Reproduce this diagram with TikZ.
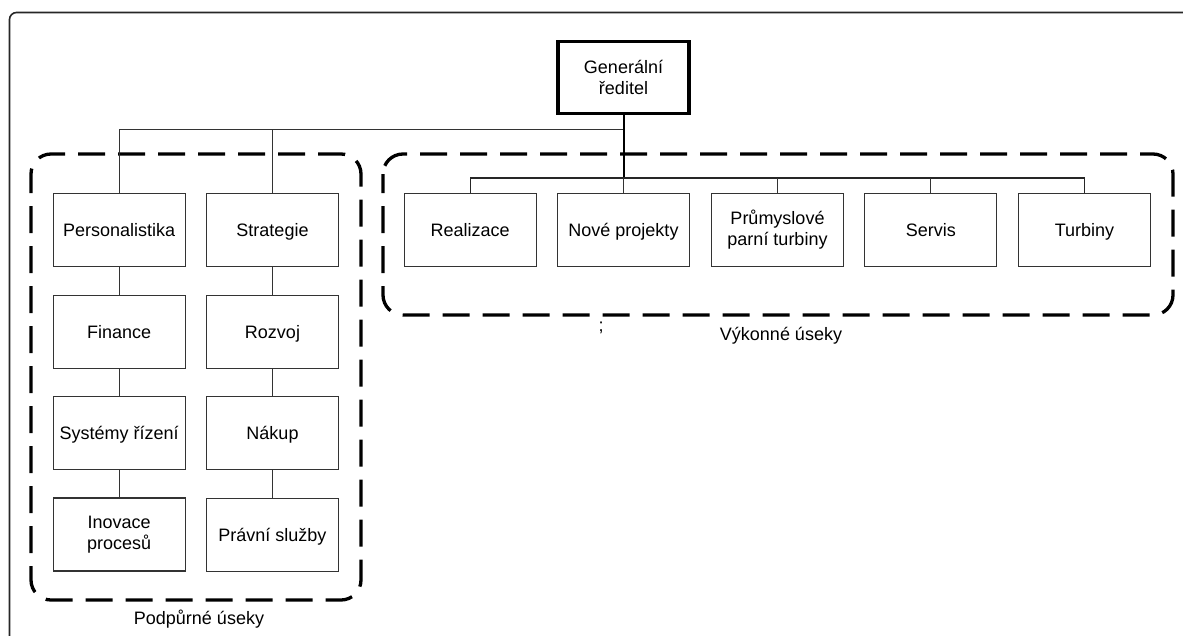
\documentclass[tikz,border=0pt]{standalone}
\usepackage{fontspec}
\setmainfont{Liberation Sans}
\begin{document}
\begin{tikzpicture}[x=1pt,y=-1pt,
  font=\fontsize{18}{21}\selectfont,
  unit/.style={draw=black!80, line width=1.2pt, minimum width=132pt, minimum height=73pt,
    inner sep=0pt, align=center, fill=white},
  oneline/.style={unit, text height=13pt, text depth=0pt},
  head/.style={unit, draw=black, line width=3.5pt, minimum width=131pt, minimum height=72pt},
  link/.style={draw=black!80, line width=1pt},
  grp/.style={draw=black, line width=3.3pt, dash pattern=on 27pt off 13pt, rounded corners=20pt},
  grplabel/.style={inner sep=0pt, anchor=base}]
\useasboundingbox (0,0) rectangle (1183,635);
% outer frame
\draw[black!85, line width=1.6pt, rounded corners=7pt] (9.5,640) -- (9.5,12.5) -- (1190,12.5);

% group outlines
\draw[grp, dash phase=8pt] (31,154) rectangle (361,600);
\draw[grp, dash phase=8pt] (383,154) rectangle (1173,315);

% top unit
\node[head] (gen) at (623.5,77.5) {Generální\\ředitel};

% support units (two columns)
\node[oneline] (pers)  at (119.2,230.3) {Personalistika};
\node[oneline] (fin)   at (119.2,332)   {Finance};
\node[oneline] (sys)   at (119.2,433)   {Systémy řízení};
\node[unit]    (inov)  at (119.2,534.5) {Inovace\\procesů};
\node[oneline] (strat) at (272.5,230.3) {Strategie};
\node[oneline] (rozv)  at (272.5,332)   {Rozvoj};
\node[oneline] (nak)   at (272.5,433)   {Nákup};
\node[oneline] (prav)  at (272.5,535)   {Právní služby};

% executive units
\node[oneline] (real) at (470.2,230) {Realizace};
\node[oneline] (nove) at (623.5,230) {Nové projekty};
\node[unit]    (prum) at (777.5,230) {Průmyslové\\parní turbiny};
\node[oneline] (serv) at (930.8,230) {Servis};
\node[oneline] (turb) at (1084.5,230) {Turbiny};

% bus points
\coordinate (topbus) at (623.5,129);
\coordinate (exbus) at (623.5,178);

% connectors
\draw[link] (pers.north) |- (topbus);
\draw[link] (strat.north) -- (strat.north |- topbus);
\draw[black, line width=2pt] (gen.south) -- (exbus);
\draw[black!85, line width=1.4pt] (real.north) -- (real.north |- exbus) -- (turb.north |- exbus) -- (turb.north);
\draw[link] (nove.north) -- (nove.north |- exbus);
\draw[link] (prum.north) -- (prum.north |- exbus);
\draw[link] (serv.north) -- (serv.north |- exbus);
\draw[link] (pers) -- (fin);
\draw[link] (fin) -- (sys);
\draw[link] (sys) -- (inov);
\draw[link] (strat) -- (rozv);
\draw[link] (rozv) -- (nak);
\draw[link] (nak) -- (prav);

% group labels
\node[grplabel] (lsup) at (199,624) {Podpůrné úseky};
\node[grplabel] (lexe) at (781,340) {Výkonné úseky};
\node[grplabel] (semi) at (601,331) {;};
\end{tikzpicture}
\end{document}
